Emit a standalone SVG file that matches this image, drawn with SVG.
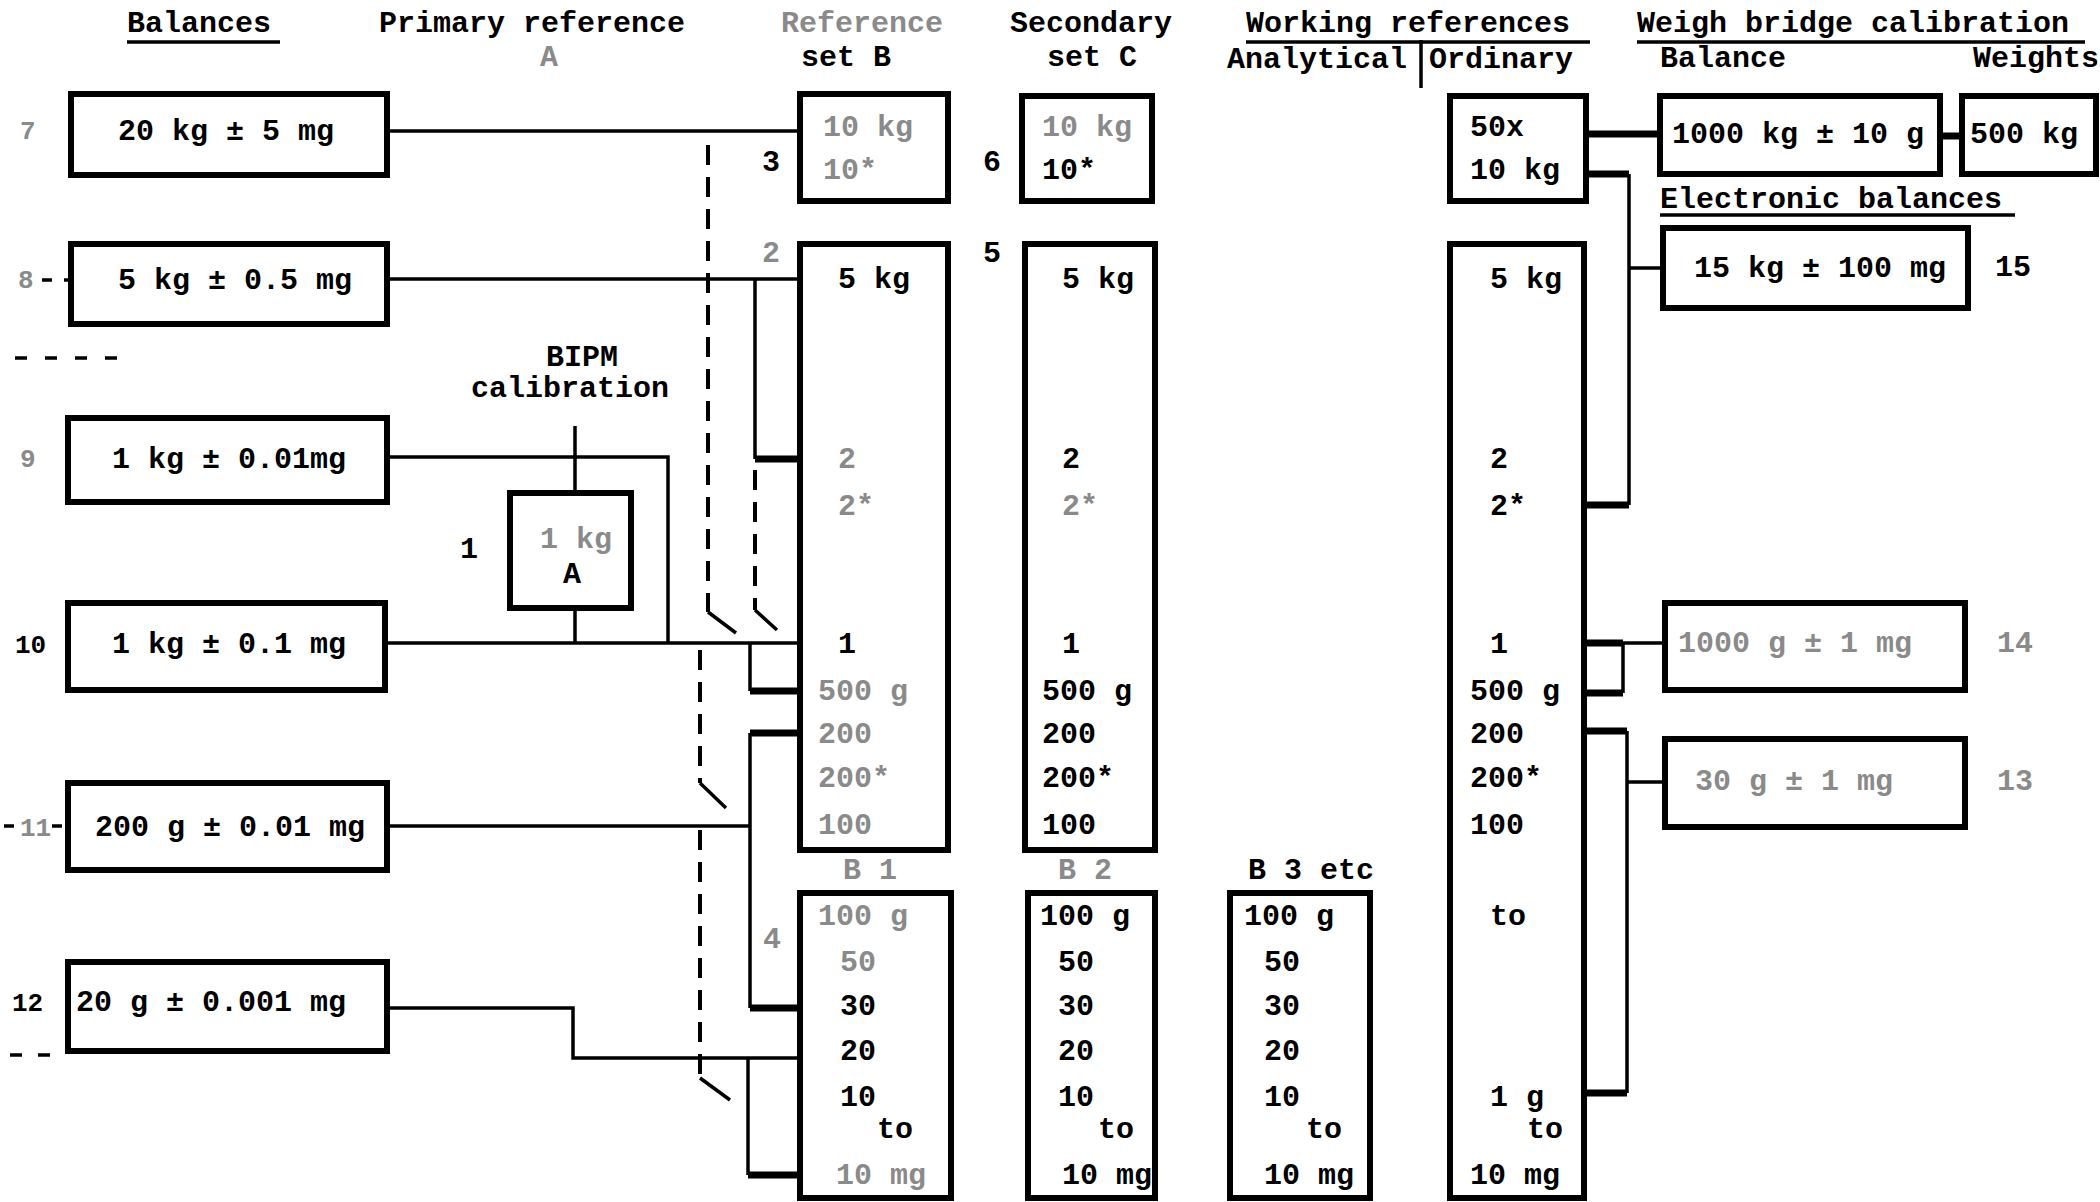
<svg xmlns="http://www.w3.org/2000/svg" width="2100" height="1202" viewBox="0 0 2100 1202">
<defs>
<style>
.box{fill:#fff;stroke:#000;stroke-width:6}
.ln{stroke:#000;stroke-width:3.5;fill:none}
.stub{stroke:#000;stroke-width:7;fill:none}
.dash{stroke:#000;stroke-width:4;fill:none;stroke-dasharray:20 12}
.t{font-family:"Liberation Mono","DejaVu Sans Mono",monospace;font-size:30px;font-weight:bold;fill:#000}
.f{fill:#8a8a8a}
.s{font-size:26px}
</style>
</defs>
<rect width="2100" height="1202" fill="#fff"/>

<g id="headers">
<text class="t" x="127" y="32">Balances</text>
<line class="ln" x1="127" y1="42" x2="280" y2="42"/>
<text class="t" x="379" y="32">Primary reference</text>
<text class="t f" x="540" y="66">A</text>
<text class="t f" x="781" y="32">Reference</text>
<text class="t" x="801" y="66">set B</text>
<text class="t" x="1010" y="32">Secondary</text>
<text class="t" x="1047" y="66">set C</text>
<text class="t" x="1246" y="32">Working  references</text>
<line class="ln" x1="1246" y1="42" x2="1590" y2="42"/>
<text class="t" x="1227" y="68">Analytical</text>
<line class="ln" x1="1421" y1="40" x2="1421" y2="88"/>
<text class="t" x="1429" y="68">Ordinary</text>
<text class="t" x="1637" y="32">Weigh bridge calibration</text>
<line class="ln" x1="1637" y1="42" x2="2085" y2="42"/>
<text class="t" x="1660" y="67">Balance</text>
<text class="t" x="1973" y="67">Weights</text>
<text class="t" x="1660" y="208">Electronic balances</text>
<line class="ln" x1="1660" y1="215" x2="2015" y2="215"/>
</g>

<g id="left-labels">
<text class="t s f" x="20" y="139">7</text>
<text class="t s f" x="18" y="288">8</text>
<path class="ln" d="M42 280h10M64 280h10M96 280h10M15 358h12M45 358h12M75 358h12M105 358h12M4 826h10M52 826h10M10 1055h12M38 1055h12"/>
<text class="t s f" x="20" y="467">9</text>
<text class="t s" x="15" y="653">10</text>
<text class="t s f" x="20" y="836">11</text>
<text class="t s" x="12" y="1011">12</text>
</g>

<g id="connectors">
<path class="ln" d="M387 131H800"/>
<path class="ln" d="M387 279H800"/>
<path class="ln" d="M755 279V459"/>
<path class="stub" d="M755 459H800"/>
<path class="dash" d="M708 145V612"/>
<path class="ln" d="M708 612L736 633"/>
<path class="dash" d="M755 470V610"/>
<path class="ln" d="M755 610L777 630"/>
<path class="ln" d="M387 457H668V643"/>
<path class="ln" d="M575 426V493M575 608V643"/>
<path class="ln" d="M385 643H800"/>
<path class="ln" d="M750 643V691"/>
<path class="stub" d="M750 691H800"/>
<path class="dash" d="M700 650V783"/>
<path class="ln" d="M700 783L726 808"/>
<path class="stub" d="M750 733H800M750 1008H800"/>
<path class="ln" d="M750 733V1008"/>
<path class="ln" d="M387 826H750"/>
<path class="dash" d="M700 830V1078"/>
<path class="ln" d="M700 1078L730 1100"/>
<path class="ln" d="M387 1008H573V1058H800"/>
<path class="ln" d="M748 1058V1175"/>
<path class="stub" d="M748 1175H800"/>
<path class="stub" d="M1586 134H1660M1940 136H1962"/>
<path class="stub" d="M1586 174H1629M1629 505H1586"/>
<path class="ln" d="M1629 174V505M1629 268H1663"/>
<path class="stub" d="M1586 643H1623M1623 693H1586"/>
<path class="ln" d="M1623 643H1665M1623 643V693"/>
<path class="stub" d="M1586 731H1627M1627 1093H1586"/>
<path class="ln" d="M1627 731V1093M1627 782H1665"/>
</g>

<g id="balance-7"><rect class="box" x="71" y="94" width="316" height="81"/><text class="t" x="118" y="140">20 kg ± 5 mg</text></g>
<g id="balance-8"><rect class="box" x="71" y="244" width="316" height="80"/><text class="t" x="118" y="289">5 kg ± 0.5 mg</text></g>
<g id="balance-9"><rect class="box" x="68" y="418" width="319" height="84"/><text class="t" x="112" y="468">1 kg ± 0.01mg</text></g>
<g id="balance-10"><rect class="box" x="68" y="603" width="317" height="87"/><text class="t" x="112" y="653">1 kg ± 0.1 mg</text></g>
<g id="balance-11"><rect class="box" x="68" y="783" width="319" height="87"/><text class="t" x="95" y="836">200 g ± 0.01 mg</text></g>
<g id="balance-12"><rect class="box" x="68" y="962" width="319" height="89"/><text class="t" x="76" y="1011">20 g ± 0.001 mg</text></g>

<g id="bipm">
<text class="t" x="546" y="366">BIPM</text>
<text class="t" x="471" y="397">calibration</text>
<rect class="box" x="510" y="493" width="121" height="115"/>
<text class="t f" x="540" y="548">1 kg</text>
<text class="t" x="563" y="583">A</text>
<text class="t" x="460" y="558">1</text>
</g>

<g id="set-B">
<rect class="box" x="800" y="94" width="148" height="107"/>
<text class="t f" x="823" y="136">10  kg</text>
<text class="t f" x="823" y="179">10*</text>
<text class="t" x="762" y="171">3</text>
<text class="t f" x="762" y="262">2</text>
<text class="t f" x="763" y="948">4</text>
<rect class="box" x="800" y="244" width="148" height="606"/>
<text class="t" x="838" y="288">5  kg</text>
<text class="t f" x="838" y="468">2</text>
<text class="t f" x="838" y="515">2*</text>
<text class="t" x="838" y="653">1</text>
<text class="t f" x="818" y="700">500 g</text>
<text class="t f" x="818" y="743">200</text>
<text class="t f" x="818" y="787">200*</text>
<text class="t f" x="818" y="834">100</text>
<text class="t f" x="843" y="879">B 1</text>
<rect class="box" x="800" y="893" width="151" height="305"/>
<text class="t f" x="818" y="925">100 g</text>
<text class="t f" x="840" y="971">50</text>
<text class="t" x="840" y="1015">30</text>
<text class="t" x="840" y="1060">20</text>
<text class="t" x="840" y="1106">10</text>
<text class="t" x="877" y="1138">to</text>
<text class="t f" x="836" y="1184">10 mg</text>
</g>

<g id="set-C">
<text class="t" x="983" y="171">6</text>
<text class="t" x="983" y="262">5</text>
<rect class="box" x="1022" y="96" width="130" height="105"/>
<text class="t f" x="1042" y="136">10 kg</text>
<text class="t" x="1042" y="179">10*</text>
<rect class="box" x="1025" y="244" width="130" height="606"/>
<text class="t" x="1062" y="288">5 kg</text>
<text class="t" x="1062" y="468">2</text>
<text class="t f" x="1062" y="515">2*</text>
<text class="t" x="1062" y="653">1</text>
<text class="t" x="1042" y="700">500 g</text>
<text class="t" x="1042" y="743">200</text>
<text class="t" x="1042" y="787">200*</text>
<text class="t" x="1042" y="834">100</text>
<text class="t f" x="1058" y="879">B 2</text>
<rect class="box" x="1028" y="893" width="127" height="305"/>
<text class="t" x="1040" y="925">100 g</text>
<text class="t" x="1058" y="971">50</text>
<text class="t" x="1058" y="1015">30</text>
<text class="t" x="1058" y="1060">20</text>
<text class="t" x="1058" y="1106">10</text>
<text class="t" x="1098" y="1138">to</text>
<text class="t" x="1062" y="1184">10 mg</text>
</g>

<g id="set-B3">
<text class="t" x="1248" y="879">B 3 etc</text>
<rect class="box" x="1230" y="893" width="140" height="305"/>
<text class="t" x="1244" y="925">100 g</text>
<text class="t" x="1264" y="971">50</text>
<text class="t" x="1264" y="1015">30</text>
<text class="t" x="1264" y="1060">20</text>
<text class="t" x="1264" y="1106">10</text>
<text class="t" x="1306" y="1138">to</text>
<text class="t" x="1264" y="1184">10 mg</text>
</g>

<g id="ordinary">
<rect class="box" x="1450" y="96" width="136" height="105"/>
<text class="t" x="1470" y="136">50x</text>
<text class="t" x="1470" y="179">10 kg</text>
<rect class="box" x="1450" y="244" width="134" height="954"/>
<text class="t" x="1490" y="288">5 kg</text>
<text class="t" x="1490" y="468">2</text>
<text class="t" x="1490" y="515">2*</text>
<text class="t" x="1490" y="653">1</text>
<text class="t" x="1470" y="700">500 g</text>
<text class="t" x="1470" y="743">200</text>
<text class="t" x="1470" y="787">200*</text>
<text class="t" x="1470" y="834">100</text>
<text class="t" x="1490" y="925">to</text>
<text class="t" x="1490" y="1106">1 g</text>
<text class="t" x="1527" y="1138">to</text>
<text class="t" x="1470" y="1184">10 mg</text>
</g>

<g id="weighbridge-balance"><rect class="box" x="1660" y="96" width="280" height="78"/><text class="t" x="1672" y="143">1000 kg ± 10 g</text></g>
<g id="weighbridge-weights"><rect class="box" x="1962" y="96" width="134" height="78"/><text class="t" x="1970" y="143">500 kg</text></g>
<g id="electronic-15"><rect class="box" x="1663" y="228" width="305" height="80"/><text class="t" x="1694" y="277">15 kg ± 100 mg</text><text class="t" x="1995" y="276">15</text></g>
<g id="electronic-14"><rect class="box" x="1665" y="603" width="300" height="87"/><text class="t f" x="1678" y="652">1000 g ± 1 mg</text><text class="t f" x="1997" y="652">14</text></g>
<g id="electronic-13"><rect class="box" x="1665" y="739" width="300" height="88"/><text class="t f" x="1695" y="790">30 g ± 1 mg</text><text class="t f" x="1997" y="790">13</text></g>
</svg>
